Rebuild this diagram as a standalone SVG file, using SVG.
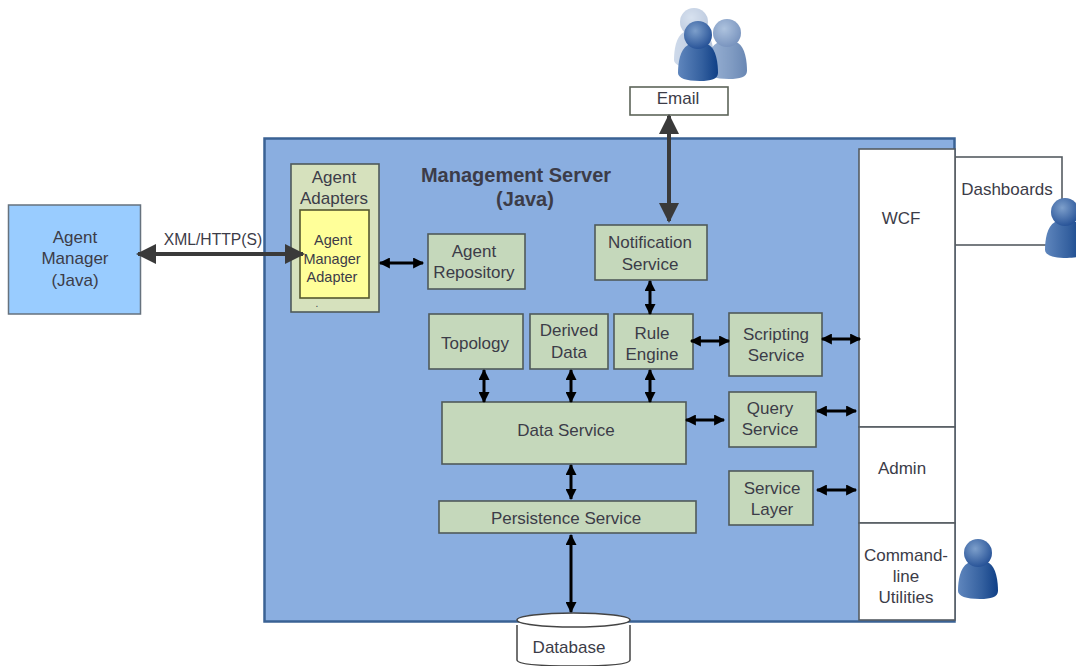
<svg xmlns="http://www.w3.org/2000/svg" width="1076" height="666" viewBox="0 0 1076 666">
<style>
text{font-family:"Liberation Sans",Arial,sans-serif;font-size:17px;fill:#3c3c48;text-anchor:middle}
.g{fill:#c5d8bb;stroke:#4f5a5a;stroke-width:1.6}
.w{fill:#fff;stroke:#555c62;stroke-width:1.6}
.c{fill:none;stroke:#000;stroke-width:3}
.t{fill:none;stroke:#3a3a3a;stroke-width:4}
</style>
<defs>
<marker id="a" viewBox="0 0 10 10" refX="9" refY="5" markerWidth="13" markerHeight="11" markerUnits="userSpaceOnUse" orient="auto-start-reverse"><path d="M0 0L10 5L0 10Z" fill="#000"/></marker>
<marker id="b" viewBox="0 0 10 10" refX="9" refY="5" markerWidth="20" markerHeight="20" markerUnits="userSpaceOnUse" orient="auto-start-reverse"><path d="M0 0L10 5L0 10Z" fill="#3a3a3a"/></marker>
<linearGradient id="u1" x1="0" y1="0" x2="1" y2="0"><stop offset="0" stop-color="#5f86bd"/><stop offset=".6" stop-color="#34609f"/><stop offset="1" stop-color="#0f3f86"/></linearGradient>
<radialGradient id="u2" cx=".4" cy=".35" r=".7"><stop offset="0" stop-color="#7d9fcb"/><stop offset="1" stop-color="#234f95"/></radialGradient>
<g id="person">
<path d="M-20 38C-20 28-18 14-10 10C-4 8 4 8 11 10C18 14 20 28 20 38C20 44 13 46 2 46C-12 46-20 43-20 38Z" fill="url(#u1)"/>
<circle cx="0" cy="0" r="14" fill="url(#u2)"/>
</g>
</defs>
<g id="server"><rect x="264.500" y="138.500" width="690" height="483" fill="#8aaee0" stroke="#3a6294" stroke-width="2.500"/></g>
<g id="agent-manager"><rect x="8.500" y="205" width="132" height="109" fill="#99ccff" stroke="#66727e" stroke-width="1.500"/><text x="75" y="243">Agent</text><text x="75" y="264">Manager</text><text x="75" y="286">(Java)</text></g>
<g id="title"><text x="516" y="182" style="font-size:20px;font-weight:bold">Management Server</text><text x="525" y="206" style="font-size:20px;font-weight:bold">(Java)</text></g>
<g id="agent-adapters"><rect x="291" y="164" width="88" height="148" fill="#d6e1bd" stroke="#4f5a5a" stroke-width="1.600"/><text x="334" y="183">Agent</text><text x="334" y="204">Adapters</text></g>
<g id="agent-manager-adapter"><rect x="300" y="210" width="69" height="88" fill="#ffff99" stroke="#55582f" stroke-width="1.600"/><text x="333" y="245" style="font-size:14.500px">Agent</text><text x="332" y="264" style="font-size:14.500px">Manager</text><text x="332" y="282" style="font-size:14.500px">Adapter</text><text x="317" y="307" style="font-size:10px">.</text></g>
<g id="agent-repository"><rect class="g" x="428" y="234" width="97" height="55"/><text x="474" y="257">Agent</text><text x="474" y="278">Repository</text></g>
<g id="notification-service"><rect class="g" x="595" y="225" width="112" height="55"/><text x="650" y="248">Notification</text><text x="650" y="270">Service</text></g>
<g id="topology"><rect class="g" x="429" y="314" width="94" height="55"/><text x="475" y="349">Topology</text></g>
<g id="derived-data"><rect class="g" x="530" y="314" width="78" height="55"/><text x="569" y="336">Derived</text><text x="569" y="358">Data</text></g>
<g id="rule-engine"><rect class="g" x="614" y="314" width="79" height="55"/><text x="652" y="339">Rule</text><text x="652" y="360">Engine</text></g>
<g id="scripting-service"><rect class="g" x="729" y="313" width="93" height="63"/><text x="776" y="340">Scripting</text><text x="776" y="361">Service</text></g>
<g id="data-service"><rect class="g" x="442" y="402" width="244" height="62"/><text x="566" y="436">Data Service</text></g>
<g id="query-service"><rect class="g" x="729" y="392" width="87" height="55"/><text x="770" y="414">Query</text><text x="770" y="435">Service</text></g>
<g id="service-layer"><rect class="g" x="729" y="471" width="84" height="54"/><text x="772" y="494">Service</text><text x="772" y="515">Layer</text></g>
<g id="persistence-service"><rect class="g" x="439" y="501" width="257" height="32"/><text x="566" y="524">Persistence Service</text></g>
<g id="dashboards"><rect class="w" x="955" y="157" width="107" height="88"/><text x="1007" y="195">Dashboards</text></g>
<g id="wcf"><rect class="w" x="859" y="149" width="96" height="278"/><text x="901" y="224">WCF</text></g>
<g id="admin"><rect class="w" x="859" y="427" width="96" height="96"/><text x="902" y="474">Admin</text></g>
<g id="command-line"><rect class="w" x="859" y="523" width="96" height="97"/><text x="906" y="561">Command-</text><text x="906" y="582">line</text><text x="906" y="603">Utilities</text></g>
<g id="email"><rect x="630" y="87" width="98" height="28" fill="#fff" stroke="#5d6459" stroke-width="1.600"/><text x="678" y="104">Email</text></g>
<g id="database"><path d="M517 625V660Q517 666 574 666Q630 666 630 660V625" fill="#fff" stroke="#444" stroke-width="1.500"/><ellipse cx="573.500" cy="620" rx="56.500" ry="7" fill="#fff" stroke="#444" stroke-width="1.500"/><text x="569" y="653">Database</text></g>
<g id="users">
<g opacity=".3" transform="translate(694 22)"><use href="#person"/></g>
<g opacity=".62" transform="translate(727 33)"><use href="#person"/></g>
<g transform="translate(698 35)"><use href="#person"/></g>
</g>
<g id="dashboard-user" transform="translate(1065 212)"><use href="#person"/></g>
<g id="cli-user" transform="translate(978 553)"><use href="#person"/></g>
<g id="connectors">
<path class="t" d="M138 254H303" marker-start="url(#b)" marker-end="url(#b)"/>
<path class="t" d="M669 116V221" marker-start="url(#b)" marker-end="url(#b)"/>
<path class="c" d="M380 263H423" marker-start="url(#a)" marker-end="url(#a)"/>
<path class="c" d="M650 281V314" marker-start="url(#a)" marker-end="url(#a)"/>
<path class="c" d="M691 341H729" marker-start="url(#a)" marker-end="url(#a)"/>
<path class="c" d="M822 339H860" marker-start="url(#a)" marker-end="url(#a)"/>
<path class="c" d="M484 370V402" marker-start="url(#a)" marker-end="url(#a)"/>
<path class="c" d="M571 370V402" marker-start="url(#a)" marker-end="url(#a)"/>
<path class="c" d="M650 370V402" marker-start="url(#a)" marker-end="url(#a)"/>
<path class="c" d="M686 420H724" marker-start="url(#a)" marker-end="url(#a)"/>
<path class="c" d="M817 411H856" marker-start="url(#a)" marker-end="url(#a)"/>
<path class="c" d="M817 490H856" marker-start="url(#a)" marker-end="url(#a)"/>
<path class="c" d="M571 465V499" marker-start="url(#a)" marker-end="url(#a)"/>
<path class="c" d="M571 535V612" marker-start="url(#a)" marker-end="url(#a)"/>
</g>
<text x="213" y="245" style="font-size:15.700px">XML/HTTP(S)</text>
</svg>
